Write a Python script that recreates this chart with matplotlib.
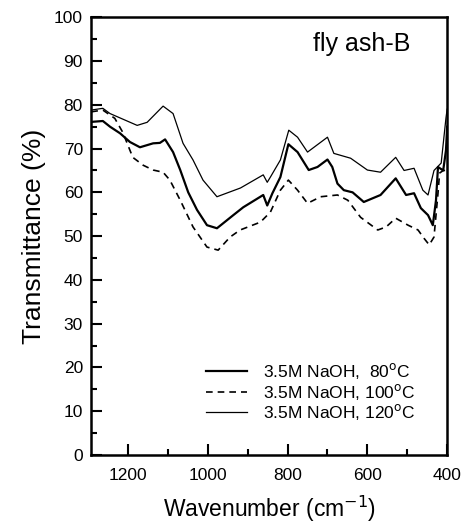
import matplotlib
matplotlib.use("Agg")
import matplotlib.pyplot as plt
from matplotlib.ticker import MultipleLocator

plt.rcParams['font.family'] = ['Liberation Sans', 'DejaVu Sans']

# 80 C (thick solid, middle)
x80 = [1292, 1263, 1245, 1220, 1195, 1170, 1137, 1120, 1107, 1087, 1069, 1049, 1027, 1002, 977,
       936, 911, 861, 851, 838, 818, 798, 775, 747, 725, 700, 688, 675, 659, 637, 609, 567,
       529, 503, 483, 466, 448, 436, 428, 423, 410, 403, 400]
y80 = [76.1, 76.3, 75.0, 73.5, 71.5, 70.3, 71.2, 71.3, 72.1, 69.2, 65.1, 60.0, 56.0, 52.5, 51.8,
       54.8, 56.6, 59.4, 57.0, 59.8, 63.5, 71.0, 69.2, 65.1, 65.8, 67.5, 65.8, 62.0, 60.5, 60.0, 57.8, 59.4,
       63.2, 59.4, 59.8, 56.4, 54.8, 52.5, 58.2, 65.8, 65.0, 69.6, 75.0]

# 100 C (dashed)
x100 = [1292, 1263, 1233, 1213, 1188, 1162, 1137, 1112, 1095, 1069, 1037, 1002, 974, 944, 919,
        868, 843, 818, 798, 775, 750, 717, 675, 649, 617, 574, 553, 529, 498, 473, 458, 445,
        433, 423, 419, 410, 403]
y100 = [78.4, 78.8, 76.9, 73.7, 68.0, 66.2, 65.1, 64.6, 62.8, 58.2, 52.1, 47.5, 46.8, 49.8, 51.4,
        53.2, 55.5, 60.5, 62.8, 60.5, 57.5, 59.0, 59.4, 58.2, 54.3, 51.4, 52.1, 54.1, 52.5, 51.4, 49.5, 48.0,
        49.8, 59.8, 64.4, 65.0, 65.0]

# 120 C (thin solid, top)
x120 = [1292, 1263, 1245, 1177, 1152, 1112, 1087, 1062, 1037, 1012, 977, 918, 861, 851, 843, 818,
        797, 775, 750, 700, 684, 642, 600, 567, 529, 508, 483, 461, 448, 433, 415, 403, 400]
y120 = [78.8, 79.2, 78.0, 75.3, 76.0, 79.7, 78.0, 71.2, 67.4, 62.8, 59.0, 61.0, 64.0, 62.3, 63.5, 67.4,
        74.2, 72.6, 69.2, 72.6, 68.9, 67.8, 65.1, 64.6, 68.0, 65.0, 65.5, 60.5, 59.4, 65.0, 66.7, 77.0, 79.0]

labels = ['3.5M NaOH,  80$^{\\rm o}$C', '3.5M NaOH, 100$^{\\rm o}$C', '3.5M NaOH, 120$^{\\rm o}$C']

fig = plt.figure(figsize=(4.61, 5.23), dpi=100)
ax = fig.add_axes([0.198, 0.130, 0.772, 0.837])

ax.plot(x80, y80, color='black', lw=1.6, ls='-', label=labels[0])
ax.plot(x100, y100, color='black', lw=1.2, ls=(0, (4, 3)), label=labels[1])
ax.plot(x120, y120, color='black', lw=0.9, ls='-', label=labels[2])

ax.set_xlim(1292, 400)
ax.set_ylim(0, 100)
ax.xaxis.set_major_locator(MultipleLocator(200))
ax.xaxis.set_minor_locator(MultipleLocator(100))
ax.yaxis.set_major_locator(MultipleLocator(10))
ax.yaxis.set_minor_locator(MultipleLocator(5))
ax.tick_params(which='both', direction='in', width=1.5, labelsize=12.5)
ax.tick_params(axis='y', which='major', length=8, pad=6)
ax.tick_params(axis='x', which='major', length=8, pad=9)
ax.tick_params(which='minor', length=4.5)
for s in ax.spines.values():
    s.set_linewidth(1.8)

ax.set_xlabel('Wavenumber (cm$^{-1}$)', fontsize=16.5, labelpad=8)
ax.set_ylabel('Transmittance (%)', fontsize=19, labelpad=6)
ax.text(0.896, 0.94, 'fly ash-B', transform=ax.transAxes, ha='right', va='center', fontsize=18)

leg = ax.legend(loc='lower right', frameon=False, fontsize=12.5, handlelength=2.4,
                bbox_to_anchor=(0.91, 0.075), borderaxespad=0, borderpad=0,
                labelspacing=0.02, handletextpad=0.9)

fig.savefig('out.png', dpi=100)
